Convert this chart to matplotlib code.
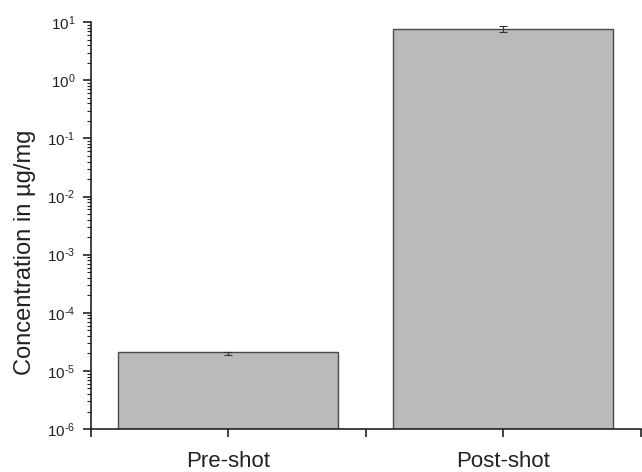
import matplotlib
matplotlib.use('Agg')
import matplotlib.pyplot as plt
from matplotlib.ticker import LogLocator, FixedLocator, NullFormatter, FixedFormatter, FuncFormatter
import numpy as np

plt.rcParams['font.family'] = ['Liberation Sans', 'DejaVu Sans']
plt.rcParams['mathtext.fontset'] = 'custom'
plt.rcParams['mathtext.rm'] = 'Liberation Sans'
plt.rcParams['mathtext.it'] = 'Liberation Sans:italic'

# data
categories = ['Pre-shot', 'Post-shot']
values = [2.0e-5, 7.6]
errors = [0.15e-5, 0.9]
positions = [0.5, 1.5]
decades = [1e-6, 1e-5, 1e-4, 1e-3, 1e-2, 1e-1, 1e0, 1e1]

fig = plt.figure(figsize=(6.42, 4.72), dpi=100)
ax = fig.add_axes([0.141, 0.091, 0.857, 0.862])

ax.bar(positions, values, width=0.8, color='#bababa', edgecolor='#4a4a4a',
       linewidth=1.0, bottom=1e-6, zorder=2)
ax.errorbar(positions, values, yerr=errors, fmt='none', ecolor='#333333',
            elinewidth=0.8, capsize=3, capthick=0.8, zorder=3)

ax.set_yscale('log')
ax.set_ylim(1e-6, 10)
ax.set_xlim(0, 2)

def decade(v, pos):
    e = int(round(np.log10(v)))
    s = str(e).replace('-', r'\text{-}')
    return r'$10^{' + s + '}$'

ax.yaxis.set_major_locator(FixedLocator(decades))
ax.yaxis.set_major_formatter(FuncFormatter(decade))
ax.yaxis.set_minor_locator(LogLocator(base=10, subs=range(2, 10), numticks=20))
ax.yaxis.set_minor_formatter(NullFormatter())

# ticks at category centres and between categories
ax.xaxis.set_major_locator(FixedLocator([0.5, 1.5]))
ax.xaxis.set_major_formatter(FixedFormatter(categories))
ax.xaxis.set_minor_locator(FixedLocator([0.0, 1.0, 2.0]))
ax.xaxis.set_minor_formatter(NullFormatter())

for side in ['top', 'right']:
    ax.spines[side].set_visible(False)
for side in ['left', 'bottom']:
    ax.spines[side].set_linewidth(1.2)
    ax.spines[side].set_color('#222222')

ax.tick_params(axis='y', which='major', length=6, width=1.2, labelsize=11,
               colors='#222222', pad=5)
ax.tick_params(axis='y', which='minor', length=3, width=0.8, colors='#222222')
ax.tick_params(axis='x', which='both', length=6, width=1.2, labelsize=16,
               colors='#222222', pad=10)

ax.set_ylabel('Concentration in µg/mg', fontsize=17, color='#222222')
ax.yaxis.set_label_coords(-0.100, 0.435)

fig.savefig('out.png', dpi=100)
